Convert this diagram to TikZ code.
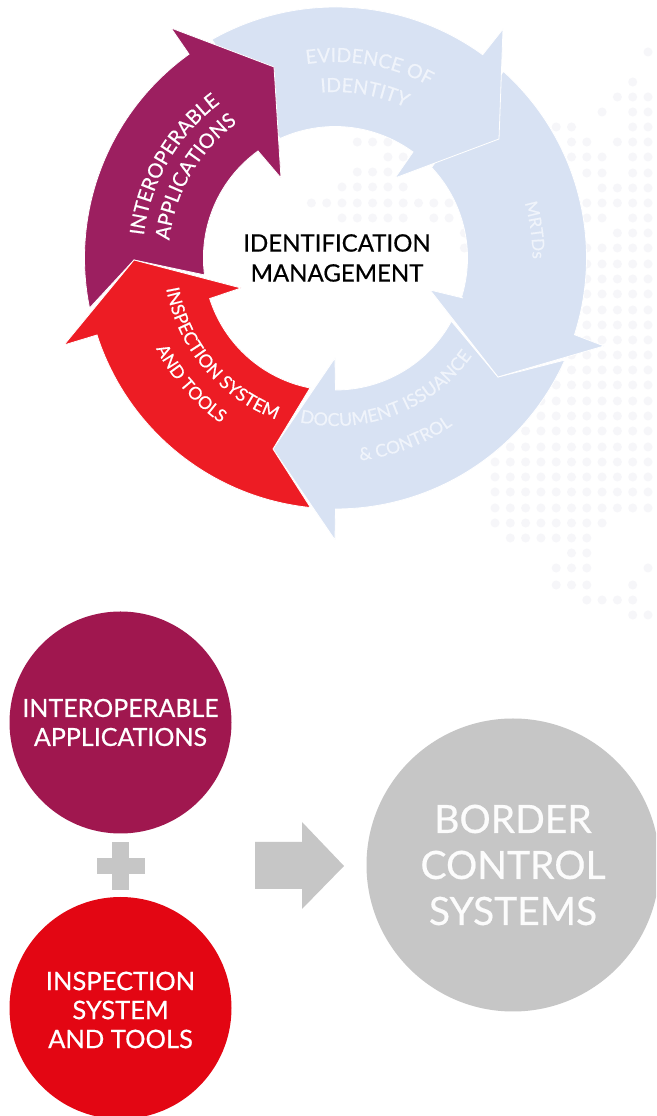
\documentclass[tikz,border=0pt]{standalone}
\usepackage{fontspec}
\setmainfont{Lato}[FakeBold=.5]
\usetikzlibrary{decorations.text}
\definecolor{plum}{HTML}{9C1F60}
\definecolor{plumdisc}{HTML}{A0174F}
\definecolor{signal}{HTML}{ED1C24}
\definecolor{signaldisc}{HTML}{E30613}
\definecolor{pale}{HTML}{D8E2F3}
\definecolor{paletext}{HTML}{F0F4FB}
\definecolor{stone}{HTML}{C6C6C6}
\definecolor{mapgrey}{HTML}{F6F6F9}
\tikzset{
  sector/.style={draw=white,line width=.8pt,line join=miter},
  disc/.style={circle,inner sep=0pt,align=center,text=white},
  sign/.style={fill=stone}
}
% label running along an arc round the hub: radius, from, to, colour, size, text
\newcommand{\arclabel}[6]{
  \path[decorate,decoration={text along path,text align=center,
    text color=#4,text={|\fontsize{#5}{#5}\selectfont|#6}}]
    (hub) ++(#2:#1pt) arc[start angle=#2,end angle=#3,radius=#1pt];
}
\begin{document}
\begin{tikzpicture}[x=1pt,y=1pt]
\clip (0,0) rectangle (656,1116);
\fill[white] (0,0) rectangle (656,1116);
\coordinate (hub) at (335.5,858);
% map dots behind everything: row, first and last column
\foreach \ypos/\kfirst/\klast in {52/0/0,82/1/1,97/0/2,112/0/1,112/3/3,127/0/1,127/5/6,142/0/2,142/4/5,
  157/0/1,157/3/5,173/0/1,173/3/4,188/0/3,203/0/4,218/0/1,218/3/4,233/0/2,248/0/4,264/0/4,279/0/4,294/0/4,
  310/0/4,325/0/5,340/0/6,355/0/9,370/0/9,385/0/9,401/0/9,416/0/9,431/0/9,447/0/10,462/0/10,477/0/10,
  492/0/10,508/0/10,523/3/10,538/4/9,553/4/5,568/0/0,568/4/6,585/1/1,585/4/6,600/1/4,615/0/1,
  142/17/19,157/16/17,172/17/19,187/16/20,203/13/22,218/13/14,218/16/20,233/12/12,248/12/12}{
  \foreach \k in {\kfirst,...,\klast}{
    \fill[mapgrey] (648-15.3*\k,1116-\ypos) circle (4.5);
  }
}
% ring of arrows
\draw[sector,fill=pale] (273,667) -- (335,758) -- ([shift={(270:132pt)}]hub)
  arc[start angle=270,end angle=331.4,radius=132pt] -- (498,739) -- ([shift={(336:251pt)}]hub)
  arc[start angle=336,end angle=270,radius=251pt] -- (335,576) -- cycle;
\draw[sector,fill=pale] ([shift={(48:251pt)}]hub)
  arc[start angle=48,end angle=-17.8,radius=251pt] -- (604,770) -- (498,739) -- (430,826) -- (463,818)
  -- ([shift={(-17.4:132pt)}]hub) arc[start angle=-17.4,end angle=43.3,radius=132pt] -- cycle;
\draw[sector,fill=pale] ([shift={(119.5:251pt)}]hub)
  arc[start angle=119.5,end angle=54.1,radius=251pt] -- (503,1087) -- (499,977) -- (395,938) -- (413,964)
  arc[start angle=53.8,end angle=114.6,radius=132pt] -- cycle;
\draw[sector,fill=plum] ([shift={(191.5:251pt)}]hub)
  arc[start angle=191.5,end angle=125.7,radius=251pt] -- (171,1088) -- (274,1049) -- (281,938) -- (258,965)
  arc[start angle=125.9,end angle=187.4,radius=132pt] -- (134,856) -- cycle;
\draw[sector,fill=signal] (310,728) arc[start angle=258.9,end angle=197.7,radius=132pt]
  -- (241,828) -- (134,856) -- (64,771) -- (97,781)
  arc[start angle=197.9,end angle=264.2,radius=251pt] -- (273,667) -- cycle;
% labels on the ring
\arclabel{193}{180}{120}{white}{20}{INTEROPERABLE}
\arclabel{167}{180}{120}{white}{20}{APPLICATIONS}
\arclabel{196}{110}{50}{paletext}{19.5}{EVIDENCE OF}
\arclabel{166}{110}{50}{paletext}{19.5}{IDENTITY}
\arclabel{197}{30}{-14}{paletext}{17}{MRTDs}
\arclabel{172}{180}{260}{white}{18}{INSPECTION SYSTEM}
\arclabel{201}{190}{252}{white}{17.5}{AND TOOLS}
\arclabel{168}{249}{333}{paletext}{18}{DOCUMENT ISSUANCE}
\arclabel{204}{255}{327}{paletext}{17.5}{{\&} CONTROL}
\node[align=center,text=black,font=\fontsize{24}{30}\selectfont] (title) at (337,858) {IDENTIFICATION\\MANAGEMENT};
% lower part
\node[disc,fill=plumdisc,minimum size=222pt,font=\fontsize{25}{29}\selectfont] (apps) at (120.5,393.5) {INTEROPERABLE\\APPLICATIONS};
\node[disc,fill=signaldisc,minimum size=222pt] (tools) at (120.5,108) {};
\node[align=center,text=white,font=\fontsize{25.5}{29}\selectfont] (toolstext) at ([yshift=-2pt]tools) {INSPECTION\\SYSTEM\\AND TOOLS};
\node[disc,fill=stone,minimum size=293pt,text=white!95!stone,font=\fontsize{39}{46}\selectfont] (border) at (513,251) {BORDER\\CONTROL\\SYSTEMS};
\fill[sign] (97,242) rectangle (145,258);
\fill[sign] (112,226) rectangle (129,274);
\fill[sign] (255,274) -- (302,274) -- (302,294) -- (344,250) -- (302,207) -- (302,227) -- (255,227) -- cycle;
\end{tikzpicture}
\end{document}
